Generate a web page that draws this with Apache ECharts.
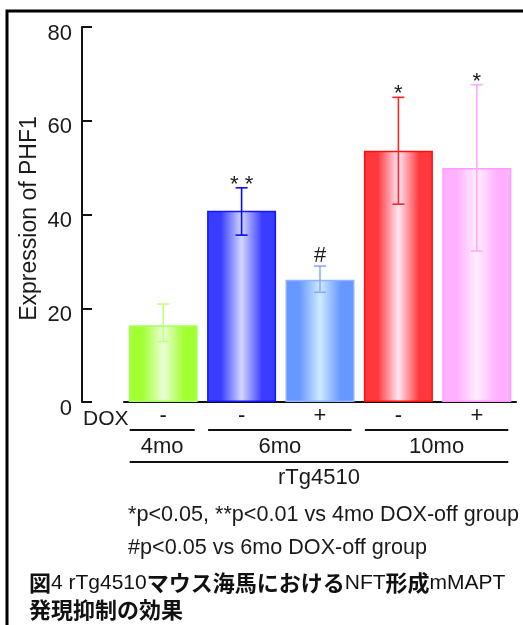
<!DOCTYPE html>
<html>
<head>
<meta charset="utf-8">
<script src="https://cdn.jsdelivr.net/npm/echarts@6/dist/echarts.min.js"></script>
<style>
html,body{margin:0;padding:0;background:#fff;}
#chart{width:523px;height:625px;}
</style>
</head>
<body>
<div id="chart"></div>
<script>
// ---- data ----
const categories = ['4mo DOX-', '6mo DOX-', '6mo DOX+', '10mo DOX-', '10mo DOX+'];
const doxLabels = ['-', '-', '+', '-', '+'];
const values = [16.4, 40.8, 26.1, 53.6, 49.9];
const errHigh = [20.9, 45.7, 29.0, 65.0, 67.7];
const errLow = [12.9, 35.6, 23.4, 42.2, 32.2];
const sigMarks = ['', '**', '#', '*', '*'];
const ageLabels = ['4mo', '6mo', '10mo'];
const ageStart = [0, 1, 3];
const ageEnd = [0, 2, 4];
const strainLabel = 'rTg4510';
const yMin = 0, yMax = 80, yInterval = 20;
const yTitle = 'Expression of PHF1';
const note1 = '*p<0.05, **p<0.01 vs 4mo DOX-off group';
const note2 = '#p<0.05 vs 6mo DOX-off group';

// ---- styles ----
const edgeColors = ['#a2ff32', '#3a3cff', '#6699ff', '#ff383c', '#ffb0ff'];
const centerColors = ['#eaffd6', '#d2d8ff', '#cfeaff', '#ffe6f6', '#ffeeff'];
const borderColors = ['#a8ff60', '#1414ff', '#8fb4ff', '#ff1010', '#ff9cff'];
const errColors = ['#c2ff86', '#0a0aff', '#8aabff', '#ff2424', '#ffaaff'];
const LATIN = '"Liberation Sans", Arial, sans-serif';
const CJK = '"Noto Sans CJK JP", sans-serif';
const TXT = '#1a1a1a';

function grad(i) {
  return new echarts.graphic.LinearGradient(0, 0, 1, 0, [
    { offset: 0, color: edgeColors[i] },
    { offset: 0.2, color: edgeColors[i] },
    { offset: 0.5, color: centerColors[i] },
    { offset: 0.8, color: edgeColors[i] },
    { offset: 1, color: edgeColors[i] }
  ]);
}

const chart = echarts.init(document.getElementById('chart'), null, { renderer: 'canvas' });
const BAR_W = 69;

const option = {
  backgroundColor: '#fff',
  animation: false,
  grid: { left: 124, width: 392, top: 27, height: 375, containLabel: false },
  xAxis: {
    type: 'category',
    data: categories,
    axisLine: { show: true, lineStyle: { color: '#111', width: 2 } },
    axisTick: { show: false },
    axisLabel: {
      formatter: (v, idx) => doxLabels[idx],
      fontFamily: LATIN, fontSize: 22, color: TXT, margin: 3
    },
    splitLine: { show: false }
  },
  yAxis: {
    type: 'value',
    min: yMin, max: yMax, interval: yInterval,
    offset: 42,
    axisLine: { show: true, lineStyle: { color: '#111', width: 2 } },
    axisTick: { show: true, inside: true, length: 10, lineStyle: { color: '#111', width: 2 } },
    axisLabel: {
      margin: 10,
      formatter: v => '{a|' + v + '}',
      rich: { a: { fontFamily: LATIN, fontSize: 22, color: TXT, padding: [13, 0, 0, 0] } }
    },
    splitLine: { show: false }
  },
  series: [
    {
      type: 'bar',
      barWidth: BAR_W,
      data: values.map((v, i) => ({
        value: v,
        itemStyle: { color: grad(i), borderColor: borderColors[i], borderWidth: 1.5 }
      })),
      z: 2
    },
    {
      type: 'custom',
      z: 5,
      data: categories.map((c, i) => [i, errLow[i], errHigh[i]]),
      renderItem: function (params, api) {
        const i = api.value(0);
        const hi = api.coord([i, api.value(2)]);
        const lo = api.coord([i, api.value(1)]);
        const x = hi[0];
        const cw = 6;
        const col = errColors[i];
        const st = { stroke: col, lineWidth: 1.6 };
        const children = [
          { type: 'line', shape: { x1: x, y1: hi[1], x2: x, y2: lo[1] }, style: st },
          { type: 'line', shape: { x1: x - cw, y1: hi[1], x2: x + cw, y2: hi[1] }, style: st },
          { type: 'line', shape: { x1: x - cw, y1: lo[1], x2: x + cw, y2: lo[1] }, style: st }
        ];
        const m = sigMarks[i];
        if (m) {
          const isHash = m.indexOf('#') >= 0;
          children.push({
            type: 'text',
            style: {
              text: isHash ? m : m.split('').join(' '),
              x: x, y: hi[1] - (isHash ? 10 : 3),
              align: 'center', verticalAlign: 'middle',
              fontFamily: LATIN, fontSize: 22, fill: TXT
            }
          });
        }
        return { type: 'group', children: children };
      }
    }
  ]
};

chart.setOption(option);

// ---- annotation rows built from the axis scale ----
function px(i, v) { return chart.convertToPixel({ gridIndex: 0 }, [i, v || 0]); }
const g = [];
// frame
g.push({ type: 'rect', shape: { x: 7, y: 11, width: 540, height: 640 },
  style: { fill: 'none', stroke: '#000', lineWidth: 3 }, z: 0 });
// y-axis title, centred on the axis span
const yMid = (px(0, yMin)[1] + px(0, yMax)[1]) / 2 + 4;
g.push({ type: 'text', x: 30, y: yMid, rotation: Math.PI / 2,
  style: { text: yTitle, x: 0, y: 0, align: 'center', verticalAlign: 'middle',
    fontFamily: LATIN, fontSize: 23, fill: TXT } });
const base = px(0)[1];
const rowLineY1 = base + 28;
const rowLineY2 = base + 60;
g.push({ type: 'text', style: { text: 'DOX', x: 83, y: base + 17, align: 'left', verticalAlign: 'middle',
  fontFamily: LATIN, fontSize: 21, fill: TXT } });
let xFirst = null, xLast = null;
for (let k = 0; k < ageLabels.length; k++) {
  const x1 = px(ageStart[k])[0] - BAR_W / 2 + 1;
  const x2 = px(ageEnd[k])[0] + BAR_W / 2 - 3;
  if (xFirst === null) xFirst = x1;
  xLast = x2;
  g.push({ type: 'line', shape: { x1: x1, y1: rowLineY1, x2: x2, y2: rowLineY1 },
    style: { stroke: '#111', lineWidth: 2 } });
  g.push({ type: 'text', style: { text: ageLabels[k], x: (x1 + x2) / 2, y: base + 45,
    align: 'center', verticalAlign: 'middle', fontFamily: LATIN, fontSize: 22, fill: TXT } });
}
g.push({ type: 'line', shape: { x1: xFirst, y1: rowLineY2, x2: xLast, y2: rowLineY2 },
  style: { stroke: '#111', lineWidth: 2 } });
g.push({ type: 'text', style: { text: strainLabel, x: (xFirst + xLast) / 2, y: base + 76,
  align: 'center', verticalAlign: 'middle', fontFamily: LATIN, fontSize: 22, fill: TXT } });
g.push({ type: 'text', style: { text: note1, x: 128, y: 515, align: 'left', verticalAlign: 'middle',
  fontFamily: LATIN, fontSize: 21.6, fill: TXT } });
g.push({ type: 'text', style: { text: note2, x: 128, y: 548, align: 'left', verticalAlign: 'middle',
  fontFamily: LATIN, fontSize: 21.6, fill: TXT } });
// caption
g.push({ type: 'text', style: {
  text: '{j|図}{l|4 rTg4510}{j|マウス海馬における}{l|NFT}{j|形成}{l|mMAPT}',
  x: 29, y: 583, align: 'left', verticalAlign: 'middle',
  rich: {
    j: { fontFamily: CJK, fontSize: 22, fontWeight: 'bold', fill: '#111' },
    l: { fontFamily: LATIN, fontSize: 21, fill: '#111' }
  } } });
g.push({ type: 'text', style: {
  text: '発現抑制の効果', x: 29, y: 610, align: 'left', verticalAlign: 'middle',
  fontFamily: CJK, fontSize: 22, fontWeight: 'bold', fill: '#111' } });
chart.setOption({ graphic: g });
</script>
</body>
</html>
